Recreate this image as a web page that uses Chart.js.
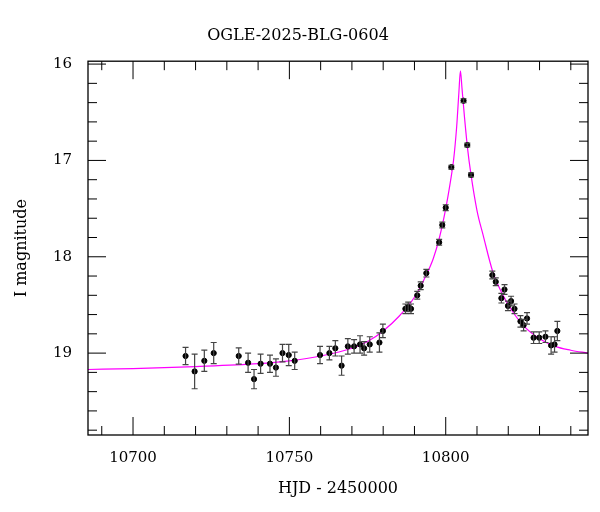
<!DOCTYPE html>
<html><head><meta charset="utf-8">
<script src="https://cdn.jsdelivr.net/npm/chart.js@4"></script>
<style>body{margin:0;background:#fff}</style>
</head><body>
<canvas id="grafico" width="600" height="512"></canvas>
<script>
// observed points (HJD-2450000, I mag, error)
var hjd = [10716.8,10719.7,10722.8,10725.8,10733.8,10736.8,10738.7,10740.8,10743.8,10745.7,10747.8,10749.8,10751.7,
  10759.8,10762.8,10764.7,10766.7,10768.7,10770.7,10772.6,10773.9,10775.7,10778.8,10779.9,
  10787.1,10788.0,10788.9,10790.9,10792.0,10793.8,10797.9,10798.9,10800.0,10801.8,10805.7,10806.9,10808.1,
  10814.9,10816.0,10817.8,10818.8,10819.9,10820.9,10822.0,10823.9,10824.9,10826.0,10828.1,10829.9,10831.9,10833.7,10834.8,10835.7];
var mag = [19.03,19.19,19.08,19.00,19.03,19.10,19.27,19.11,19.11,19.15,19.00,19.02,19.08,
  19.02,19.00,18.95,19.13,18.93,18.93,18.91,18.95,18.91,18.89,18.77,
  18.54,18.52,18.54,18.40,18.30,18.17,17.85,17.67,17.49,17.07,16.38,16.84,17.15,
  18.19,18.26,18.43,18.34,18.51,18.46,18.54,18.67,18.71,18.64,18.84,18.84,18.83,18.92,18.91,18.77];
var err = [0.09,0.18,0.11,0.11,0.085,0.10,0.10,0.10,0.09,0.09,0.09,0.11,0.09,
  0.09,0.07,0.08,0.10,0.08,0.07,0.09,0.07,0.08,0.10,0.07,
  0.05,0.05,0.05,0.04,0.04,0.04,0.03,0.03,0.03,0.02,0.02,0.02,0.02,
  0.04,0.04,0.05,0.05,0.05,0.05,0.05,0.06,0.06,0.06,0.06,0.06,0.06,0.09,0.08,0.1];
// model curve
var modelX = [10685.6,10700,10720,10740,10750,10760,10770,10775,10780,10785,10790,10793,10796,10798,10800,10801.5,10802.5,10803.5,10804.2,10804.7,
  10805.2,10806,10807,10808,10810,10812,10815,10818,10821,10825,10830,10835,10840,10845.5];
var modelY = [19.17,19.16,19.14,19.11,19.08,19.03,18.95,18.88,18.77,18.62,18.42,18.24,18.02,17.80,17.50,17.22,17.00,16.65,16.30,16.07,
  16.25,16.55,16.88,17.13,17.52,17.78,18.15,18.38,18.55,18.72,18.85,18.93,18.97,19.00];
var xTicks = [10700,10750,10800];
var yTicks = [16,17,18,19];

var font = "'DejaVu Serif', serif";

var frame = {
  id: 'frame',
  afterDatasetsDraw: function (chart) {
    var c = chart.ctx, a = chart.chartArea, xs = chart.scales.x, ys = chart.scales.y;
    c.save();
    // error bars
    c.strokeStyle = '#444'; c.lineWidth = 1.2;
    for (var i = 0; i < hjd.length; i++) {
      var px = xs.getPixelForValue(hjd[i]);
      var p1 = ys.getPixelForValue(mag[i] - err[i]), p2 = ys.getPixelForValue(mag[i] + err[i]);
      c.beginPath();
      c.moveTo(px, p1); c.lineTo(px, p2);
      c.moveTo(px - 3, p1); c.lineTo(px + 3, p1);
      c.moveTo(px - 3, p2); c.lineTo(px + 3, p2);
      c.stroke();
    }
    // box and inward ticks
    c.strokeStyle = '#000'; c.lineWidth = 1.3;
    c.strokeRect(a.left, a.top, a.right - a.left, a.bottom - a.top);
    c.lineWidth = 1;
    c.beginPath();
    for (var d = 10690; d <= 10840; d += 10) {
      var x = xs.getPixelForValue(d), L = (d % 50 === 0) ? 18 : 9;
      c.moveTo(x, a.bottom); c.lineTo(x, a.bottom - L);
      c.moveTo(x, a.top); c.lineTo(x, a.top + L);
    }
    for (var k = 16; k <= 19.8; k += 0.2) {
      var m = Math.round(k * 10) / 10;
      var y = ys.getPixelForValue(m), L2 = (Math.abs(m - Math.round(m)) < 1e-6) ? 18 : 9;
      c.moveTo(a.left, y); c.lineTo(a.left + L2, y);
      c.moveTo(a.right, y); c.lineTo(a.right - L2, y);
    }
    c.stroke();
    c.restore();
  }
};

new Chart(document.getElementById("grafico"), {
  type: 'scatter',
  data: {
    datasets: [
      {
        label: 'data',
        data: hjd.map(function (v, i) { return { x: v, y: mag[i] }; }),
        backgroundColor: '#000', borderColor: '#000',
        pointRadius: 2.6, pointHoverRadius: 2.6
      },
      {
        label: 'model', type: 'line',
        data: modelX.map(function (v, i) { return { x: v, y: modelY[i] }; }),
        borderColor: '#ff00ff', borderWidth: 1.2, pointRadius: 0,
        cubicInterpolationMode: 'monotone', fill: false
      }
    ]
  },
  options: {
    responsive: false, animation: false,
    layout: { padding: { top: 0, right: 12, bottom: 10, left: 8 } },
    plugins: {
      legend: { display: false }, tooltip: { enabled: false },
      title: { display: true, text: 'OGLE-2025-BLG-0604', color: '#000',
        font: { family: font, size: 16, weight: 'normal' }, padding: { top: 26, bottom: 16 } }
    },
    scales: {
      x: {
        type: 'linear', min: 10685.6, max: 10845.5,
        afterBuildTicks: function (s) { s.ticks = xTicks.map(function (v) { return { value: v }; }); },
        afterFit: function (s) { s.height = 67; },
        grid: { display: false }, border: { display: false },
        ticks: { color: '#000', font: { family: font, size: 15 }, padding: 6, maxRotation: 0,
          callback: function (v) { return String(v); } },
        title: { display: true, text: 'HJD - 2450000', color: '#000', font: { family: font, size: 16 } }
      },
      y: {
        type: 'linear', reverse: true, min: 15.97, max: 19.85,
        afterBuildTicks: function (s) { s.ticks = yTicks.map(function (v) { return { value: v }; }); },
        afterFit: function (s) { s.width = 80; },
        grid: { display: false }, border: { display: false },
        ticks: { color: '#000', font: { family: font, size: 15 }, padding: 8 },
        title: { display: true, text: 'I magnitude', color: '#000', font: { family: font, size: 16 } }
      }
    }
  },
  plugins: [frame]
});
</script>
</body></html>
